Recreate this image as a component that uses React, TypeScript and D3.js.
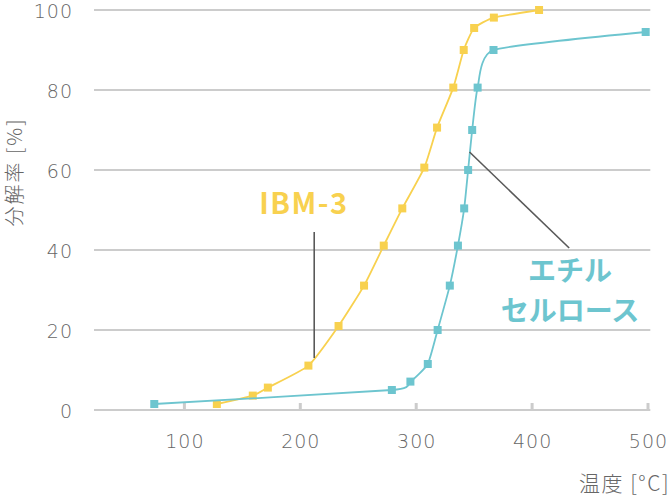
import { useEffect, useRef } from 'react'
import * as d3 from 'd3'

// IBM-3 の分解率
const ibmTemp = [128, 159, 172, 207, 233, 255, 272, 288, 307, 318, 332, 341, 350, 367, 406]
const ibmRate = [1.5, 3.6, 5.6, 11.1, 21, 31.1, 41.1, 50.4, 60.6, 70.6, 80.6, 90, 95.5, 98.1, 100]

// エチルセルロース の分解率
const ecTemp = [74, 279, 295, 310, 318.5, 329, 336, 341.4, 344.8, 348.3, 353, 366.7, 498]
const ecRate = [1.5, 5, 7.1, 11.5, 20, 31.1, 41.1, 50.4, 60, 70, 80.6, 90, 94.5]

const yTicks = [0, 20, 40, 60, 80, 100]
const xTicks = [100, 200, 300, 400, 500]

const YELLOW = '#F8D14F'
const CYAN = '#6DC5CF'
const GRID = '#cccccc'
const TEXT = '#666666'
const LEADER = '#595959'
const FONT = '"Noto Sans CJK JP", "Noto Sans", sans-serif'
const NUM_FONT = '"DejaVu Sans", "Noto Sans", sans-serif'

export default function App() {
  const svgRef = useRef<SVGSVGElement>(null)

  useEffect(() => {
    if (!svgRef.current) return
    const svg = d3.select(svgRef.current)
    svg.selectAll('*').remove()

    const x = d3.scaleLinear().domain([22, 500]).range([94, 648])
    const y = d3.scaleLinear().domain([0, 100]).range([410, 10])

    // Grid
    svg.append('g').selectAll('line').data(yTicks).join('line')
      .attr('x1', x(22)).attr('x2', x(502))
      .attr('y1', d => y(d)).attr('y2', d => y(d))
      .attr('stroke', GRID).attr('stroke-width', 2)

    // x tick marks
    svg.append('g').selectAll('line').data(xTicks).join('line')
      .attr('x1', d => x(d)).attr('x2', d => x(d))
      .attr('y1', y(0) - 7).attr('y2', y(0))
      .attr('stroke', GRID).attr('stroke-width', 3)

    // Tick labels
    svg.append('g').selectAll('text').data(yTicks).join('text')
      .attr('x', 73).attr('y', d => y(d)).attr('dy', '0.42em')
      .attr('text-anchor', 'end').attr('fill', TEXT)
      .attr('font-family', NUM_FONT).attr('font-weight', 200).attr('font-size', 19)
      .attr('letter-spacing', 1)
      .text(d => d)

    svg.append('g').selectAll('text').data(xTicks).join('text')
      .attr('x', d => x(d) + 0.5).attr('y', 448)
      .attr('text-anchor', 'middle').attr('fill', TEXT)
      .attr('font-family', NUM_FONT).attr('font-weight', 200).attr('font-size', 19)
      .attr('letter-spacing', 1)
      .text(d => d)

    // Axis titles
    svg.append('text')
      .attr('x', 670).attr('y', 491).attr('text-anchor', 'end')
      .attr('fill', TEXT).attr('font-family', FONT).attr('font-weight', 300).attr('font-size', 21)
      .attr('letter-spacing', 1.5)
      .text('温度 [°C]')

    svg.append('text')
      .attr('transform', 'translate(22,172) rotate(-90)')
      .attr('text-anchor', 'middle')
      .attr('fill', TEXT).attr('font-family', FONT).attr('font-weight', 300).attr('font-size', 20)
      .attr('letter-spacing', 2)
      .text('分解率 [%]')

    // Series
    const series = [
      { t: ibmTemp, r: ibmRate, color: YELLOW },
      { t: ecTemp, r: ecRate, color: CYAN },
    ]
    const line = d3.line<[number, number]>()
      .x(d => x(d[0])).y(d => y(d[1]))
      .curve(d3.curveCardinal.tension(0.5))

    series.forEach(s => {
      const pts = s.t.map((t, i) => [t, s.r[i]] as [number, number])
      svg.append('path').datum(pts).attr('d', line)
        .attr('fill', 'none').attr('stroke', s.color).attr('stroke-width', 1.8)
      svg.append('g').selectAll('rect').data(pts).join('rect')
        .attr('x', d => x(d[0]) - 4).attr('y', d => y(d[1]) - 4)
        .attr('width', 8).attr('height', 8).attr('fill', s.color)
    })

    // Leader lines
    svg.append('line')
      .attr('x1', x(212)).attr('x2', x(212)).attr('y1', y(44.5)).attr('y2', y(13))
      .attr('stroke', LEADER).attr('stroke-width', 1.6)
    svg.append('line')
      .attr('x1', x(346)).attr('y1', y(64.5)).attr('x2', x(432)).attr('y2', y(40.5))
      .attr('stroke', LEADER).attr('stroke-width', 1.6)

    // Series labels
    svg.append('text')
      .attr('x', 304).attr('y', 214).attr('text-anchor', 'middle')
      .attr('fill', YELLOW).attr('font-family', FONT).attr('font-weight', 700).attr('font-size', 29)
      .attr('letter-spacing', 1.5)
      .text('IBM-3')

    const ec = svg.append('text')
      .attr('text-anchor', 'middle').attr('fill', CYAN)
      .attr('font-family', FONT).attr('font-weight', 700).attr('font-size', 28)
    ec.append('tspan').attr('x', 570).attr('y', 281).text('エチル')
    ec.append('tspan').attr('x', 570).attr('y', 321).text('セルロース')
  }, [])

  return (
    <svg
      ref={svgRef}
      width={672}
      height={496}
      style={{ position: 'absolute', left: 0, top: 0, background: '#fff' }}
    />
  )
}
